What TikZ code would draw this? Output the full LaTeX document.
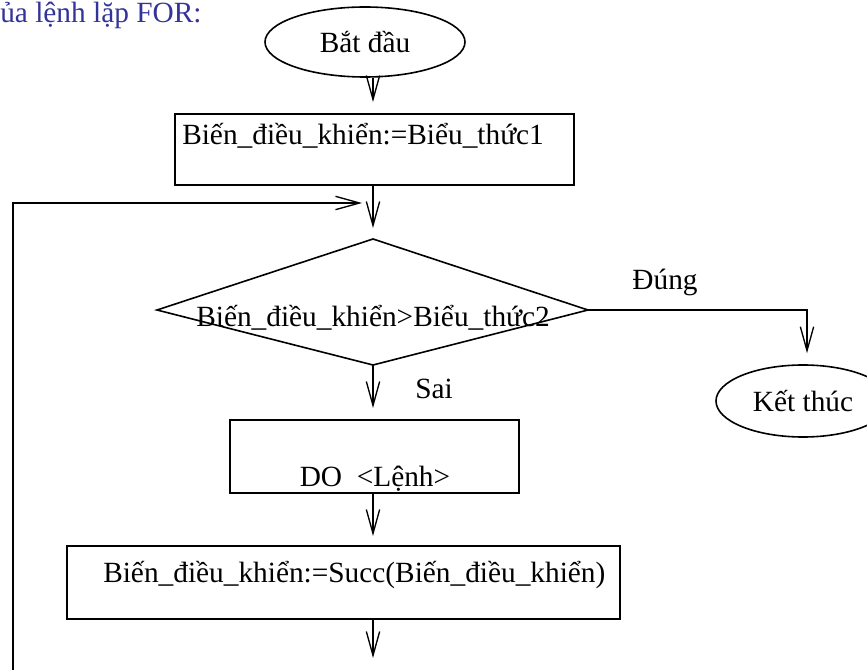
\documentclass[tikz,border=0pt]{standalone}
\usepackage{fontspec}
\setmainfont{Liberation Serif}
\usetikzlibrary{shapes.geometric,arrows.meta}
\definecolor{titleblue}{RGB}{51,51,153}
\begin{document}
\begin{tikzpicture}[x=0.75pt,y=-0.75pt,
  every node/.style={font=\fontsize{22}{26}\selectfont, inner sep=0pt},
  ln/.style={line width=1pt},
  arr/.style={ln, -{Straight Barb[length=18pt,width=10pt]}},
  box/.style={draw, line width=1.2pt, rectangle, anchor=north west},
  term/.style={draw, line width=1.2pt, ellipse},
  lbl/.style={anchor=base},
  lblw/.style={anchor=base west}]
\useasboundingbox (0,0) rectangle (867,670);
% title
\node[lblw, text=titleblue] (title) at (0,23) {ủa lệnh lặp FOR:};
% start
\node[term, minimum width=150pt, minimum height=52.5pt] (start) at (365,42) {Bắt đầu};
% box 1
\node[box, minimum width=299.25pt, minimum height=53.25pt] (b1) at (174,113) {};
\node[lblw] (t1) at (182,145) {Biến\_điều\_khiển:=Biểu\_thức1};
% diamond
\coordinate (dT) at (373,239);
\coordinate (dL) at (157,310);
\coordinate (dR) at (588,310);
\coordinate (dB) at (373,365);
\draw[line width=1.2pt] (dT) -- (dR) -- (dB) -- (dL) -- cycle;
\node[lbl] (cond) at (373,326) {Biến\_điều\_khiển>Biểu\_thức2};
% DO box
\node[box, minimum width=216.75pt, minimum height=54.75pt] (do) at (229,419) {};
\node[lbl] (tdo) at (375,486) {DO~~<Lệnh>};
% box 3
\node[box, minimum width=414.75pt, minimum height=54.75pt] (b3) at (66,545) {};
\node[lblw] (t3) at (103,582) {Biến\_điều\_khiển:=Succ(Biến\_điều\_khiển)};
% end
\node[term, minimum width=130.5pt, minimum height=54pt] (end) at (803,401) {Kết thúc};
% labels
\node[lbl] (yes) at (665,290) {Đúng};
\node[lblw] (no) at (415,398) {Sai};
% connectors
\coordinate (ej) at (807,310);
\coordinate (loopB) at (13,675);
\coordinate (loopC) at (13,203);
\coordinate (loopE) at (362,203);
\coordinate (tail) at (373,658);
\draw[arr, shorten >=8.25pt] (start.south -| dT) -- (b1.north -| dT);
\draw[arr, shorten >=8.25pt] (b1.south -| dT) -- (dT);
\draw[arr] (loopB) -- (loopC) -- (loopE);
\draw[arr, shorten >=8.25pt] (dB) -- (do.north -| dB);
\draw[arr, shorten >=8.25pt] (dR) -- (ej) -- (ej |- end.north);
\draw[arr, shorten >=6.75pt] (do.south -| dB) -- (b3.north -| dB);
\draw[arr] (b3.south -| dB) -- (tail);
\end{tikzpicture}
\end{document}
